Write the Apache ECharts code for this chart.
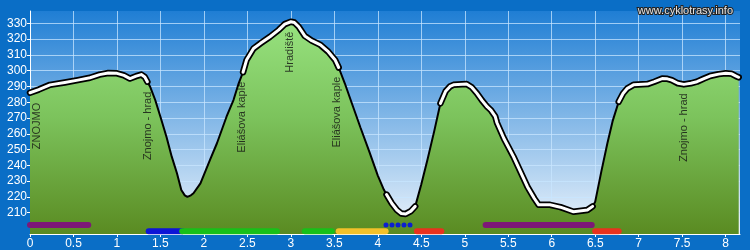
<!DOCTYPE html>
<html><head><meta charset="utf-8">
<script src="https://cdn.jsdelivr.net/npm/echarts@6/dist/echarts.min.js"></script>
<style>html,body{margin:0;padding:0;background:#0a6ec6}#c{width:750px;height:250px}</style>
</head><body><div id="c"></div>
<script>
// elevation profile (km, m)
const distKm = [0.00,0.10,0.23,0.40,0.55,0.69,0.80,0.90,1.00,1.08,1.15,1.22,1.28,1.32,1.35,1.38,1.44,1.50,1.57,1.63,1.69,1.74,1.78,1.81,1.85,1.88,1.96,2.07,2.15,2.26,2.34,2.40,2.45,2.49,2.57,2.65,2.76,2.86,2.93,3.00,3.04,3.09,3.16,3.24,3.34,3.43,3.51,3.55,3.62,3.70,3.80,3.90,4.00,4.07,4.10,4.16,4.22,4.27,4.32,4.38,4.43,4.50,4.57,4.65,4.72,4.78,4.83,4.87,5.02,5.08,5.14,5.20,5.26,5.30,5.35,5.37,5.45,5.56,5.64,5.72,5.80,5.85,5.98,6.10,6.25,6.41,6.47,6.50,6.57,6.64,6.70,6.77,6.82,6.87,6.94,7.10,7.18,7.27,7.33,7.38,7.45,7.52,7.60,7.67,7.75,7.82,7.92,8.00,8.07,8.12,8.15];
const elevM  = [286,288,291,292.5,294,295.5,297.5,298.5,298.3,297,295,296.5,297.5,296,293,290,281.4,270.8,258,245.5,235,224.4,221,220,221,222.3,228.6,243.4,254,270.8,281.4,292,299,306.7,314,317.3,321.5,325.8,329.5,331,330.5,327.8,322,319,316.3,312,306.7,302,292,279.5,264,249,233.5,224.5,221.5,216,211.7,209.5,209.2,211,214,228,243.4,262,279.3,287,290,291,291.5,289.5,285.6,281,277,275,271,267,257,245.5,236,226.5,219,215,215,213.5,210.6,211.7,214,217,236,254,268,280.3,285.5,288.8,291,291.5,293,295,294.8,294,292,291.3,292,293,295,296.6,297.8,298.3,298,296.5,295.8];

// named places
const waypointName = ['ZNOJMO','Znojmo - hrad','Eliášova kaple','Hradiště','Eliášova kaple','Znojmo - hrad'];
const waypointKm   = [0.084,1.354,2.436,2.99,3.53,7.52];
const waypointElev = [285.4,292.4,298.7,330.4,301.9,291.3];

// stretches drawn with the thick white profile line
const smoothFrom = [0,2.45,4.10,4.72,6.77];
const smoothTo   = [1.35,3.55,4.43,6.47,8.15];

// surface segments
const surfaceFrom = [0.00,5.24,4.094,1.365,1.75,3.16,3.55,4.45,6.50];
const surfaceTo   = [0.67,6.46,4.372,1.75,2.84,3.47,4.09,4.73,6.77];
const surfaceKind = ['road','road','trail','path','gravel','gravel','asphalt','dirt','dirt'];

// axis ticks
const yTicks = [210,220,230,240,250,260,270,280,290,300,310,320,330];
const xTicks = [0,0.5,1,1.5,2,2.5,3,3.5,4,4.5,5,5.5,6,6.5,7,7.5,8];
const xLabels = ['0','0.5','1','1.5','2','2.5','3','3.5','4','4.5','5','5.5','6','6.5','7','7.5','8'];

const profile = distKm.map((x,i)=>[x, elevM[i]]);
const smooth = [];
smoothFrom.forEach((f,r)=>{
  if (r>0) smooth.push([(smoothTo[r-1]+f)/2,'-']);
  profile.forEach(p=>{ if (p[0]>=f-1e-9 && p[0]<=smoothTo[r]+1e-9) smooth.push(p); });
});

const kindStyle = {
  road:   {color:'#7d1877', row:202.2, width:6},
  trail:  {color:'#0b1fd0', row:202.2, width:5, dash:[0,6]},
  path:   {color:'#0d15d6', row:198.2, width:6},
  gravel: {color:'#18c018', row:198.2, width:6},
  asphalt:{color:'#f2c12a', row:198.2, width:6},
  dirt:   {color:'#e8321e', row:198.2, width:6}
};
const surfaceSeries = surfaceKind.map((k,i)=>{
  const s = kindStyle[k];
  return {
    type:'line', silent:true, clip:false, showSymbol:false, z:6,
    data:[[surfaceFrom[i], s.row],[surfaceTo[i], s.row]],
    lineStyle:{color:s.color, width:s.width, cap:'round', type: s.dash || 'solid'}
  };
});

const fontFam = 'Arial, "Liberation Sans", sans-serif';
const chart = echarts.init(document.getElementById('c'), null, {renderer:'canvas'});
chart.setOption({
  animation:false,
  backgroundColor:'#0a6ec6',
  title:{text:'www.cyklotrasy.info', right:10, top:0,
    textStyle:{fontSize:11, fontWeight:'normal', fontFamily:fontFam, color:'#e6e6e6', textBorderColor:'#222', textBorderWidth:2}},
  grid:{left:30, right:10, top:11, bottom:16, show:true, borderWidth:0,
    backgroundColor:new echarts.graphic.LinearGradient(0,0,0,1,[{offset:0,color:'#1f7ed4'},{offset:1,color:'#eef5fc'}])},
  xAxis:{type:'value', min:0, max:8.165,
    axisLine:{lineStyle:{color:'#ffffff', width:1}},
    axisTick:{customValues:xTicks, length:3, lineStyle:{color:'#ffffff'}},
    axisLabel:{customValues:xTicks, formatter:v=>xLabels[xTicks.indexOf(v)] ?? String(v), color:'#ffffff', fontSize:12, fontFamily:fontFam, margin:4},
    splitLine:{show:true, lineStyle:{color:'rgba(200,230,255,0.75)', width:1}}},
  yAxis:{type:'value', min:196.5, max:337.8,
    axisLine:{show:true, lineStyle:{color:'#ffffff', width:1}},
    axisTick:{show:true, customValues:yTicks, length:3, lineStyle:{color:'#ffffff'}},
    axisLabel:{customValues:yTicks, color:'#ffffff', fontSize:12, fontFamily:fontFam, margin:3},
    splitLine:{show:true, lineStyle:{color:'rgba(200,230,255,0.75)', width:1}}},
  series:[
    {type:'line', data:profile, showSymbol:false, silent:true, z:2,
      lineStyle:{color:'#000', width:2},
      areaStyle:{origin:'start', opacity:1, color:new echarts.graphic.LinearGradient(0,0,0,1,[{offset:0,color:'#97e27f'},{offset:0.45,color:'#7cc35c'},{offset:1,color:'#5a8b22'}], false)}},
    {type:'line', data:smooth, showSymbol:false, silent:true, z:3, connectNulls:false,
      lineStyle:{color:'#000', width:6.5, cap:'round', join:'round'}},
    {type:'line', data:smooth, showSymbol:false, silent:true, z:4, connectNulls:false,
      lineStyle:{color:'#fff', width:3, cap:'round', join:'round'}},
    ...surfaceSeries,
    {type:'scatter', silent:true, z:7, symbolSize:0,
      data:waypointKm.map((x,i)=>({value:[x, waypointElev[i]], name:waypointName[i]})),
      label:{show:true, formatter:p=>p.name, position:[0,9], rotate:90, align:'right', verticalAlign:'middle',
        color:'#111', fontSize:11, fontFamily:fontFam}}
  ]
});
</script></body></html>
